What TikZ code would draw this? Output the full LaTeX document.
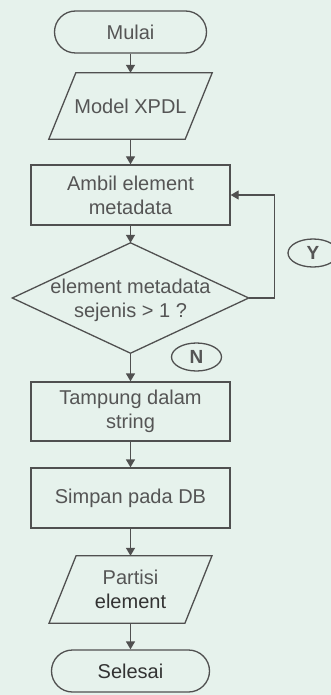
\documentclass[tikz,border=0pt]{standalone}
\usepackage{fontspec}
\setmainfont{Liberation Sans}
\usetikzlibrary{arrows.meta,calc,shapes.geometric}
\definecolor{bgc}{HTML}{E6F2EC}
\definecolor{linec}{HTML}{505050}
\definecolor{txtc}{HTML}{555555}
\definecolor{darktxt}{HTML}{333333}
\begin{document}
\begin{tikzpicture}[x=1pt,y=-1pt,
  every node/.style={font=\fontsize{20}{24}\selectfont, text=txtc, align=center, inner sep=0pt},
  term/.style={draw=linec, line width=1.3pt, rounded corners=21pt, minimum height=42pt},
  procbox/.style={draw=linec, line width=1.3pt, minimum width=199pt},
  hidden/.style={minimum width=136pt, minimum height=66pt},
  shapeline/.style={draw=linec, line width=1.3pt},
  conn/.style={draw=linec, line width=1.3pt, -{Triangle[length=8pt,width=9pt]}},
  lbl/.style={draw=linec, line width=1.3pt, ellipse, font=\fontsize{19}{22}\selectfont\bfseries, minimum width=50pt, minimum height=28pt}
]
\fill[bgc] (0,0) rectangle (331,695);
\useasboundingbox (0,0) rectangle (331,695);

\node[term, minimum width=152pt] (start) at (130.5,32) {Mulai};
\node[hidden] (model) at (130.5,106) {Model XPDL};
\draw[shapeline] ($(model.north west)+(13.5,0)$) -- ($(model.north east)+(13.5,0)$) -- ($(model.south east)+(-13.5,0)$) -- ($(model.south west)+(-13.5,0)$) -- cycle;
\node[procbox, minimum height=60pt] (amb) at (130.5,195) {Ambil element\\metadata};
\node[minimum width=236pt, minimum height=110pt] (dec) at (130.5,298) {};
\node at (130.5,300) {element metadata\\sejenis > 1 ?};
\draw[shapeline] (dec.north) -- (dec.east) -- (dec.south) -- (dec.west) -- cycle;
\node[procbox, minimum height=59pt] (tamp) at (130.5,411.5) {Tampung dalam\\string};
\node[procbox, minimum height=60pt] (simp) at (130.5,498) {Simpan pada DB};
\node[hidden, minimum height=67pt, minimum width=135.5pt] (part) at (130.5,589.5) {Partisi\\\textcolor{darktxt}{element}};
\draw[shapeline] ($(part.north west)+(13.5,0)$) -- ($(part.north east)+(13.5,0)$) -- ($(part.south east)+(-13.5,0)$) -- ($(part.south west)+(-13.5,0)$) -- cycle;
\node[term, minimum width=158pt, text=darktxt] (end) at (130.5,671) {Selesai};

\node[lbl] (ly) at (313,253) {Y};
\node[lbl] (ln) at (196.5,357) {N};

\draw[conn] (start.south) -- (model.north);
\draw[conn] (model.south) -- (amb.north);
\draw[conn] (amb.south) -- (dec.north);
\draw[conn] (dec.east) -- ++(26,0) |- (amb.east);
\draw[conn] (dec.south) -- (tamp.north);
\draw[conn] (tamp.south) -- (simp.north);
\draw[conn] (simp.south) -- (part.north);
\draw[conn] (part.south) -- (end.north);
\end{tikzpicture}
\end{document}
